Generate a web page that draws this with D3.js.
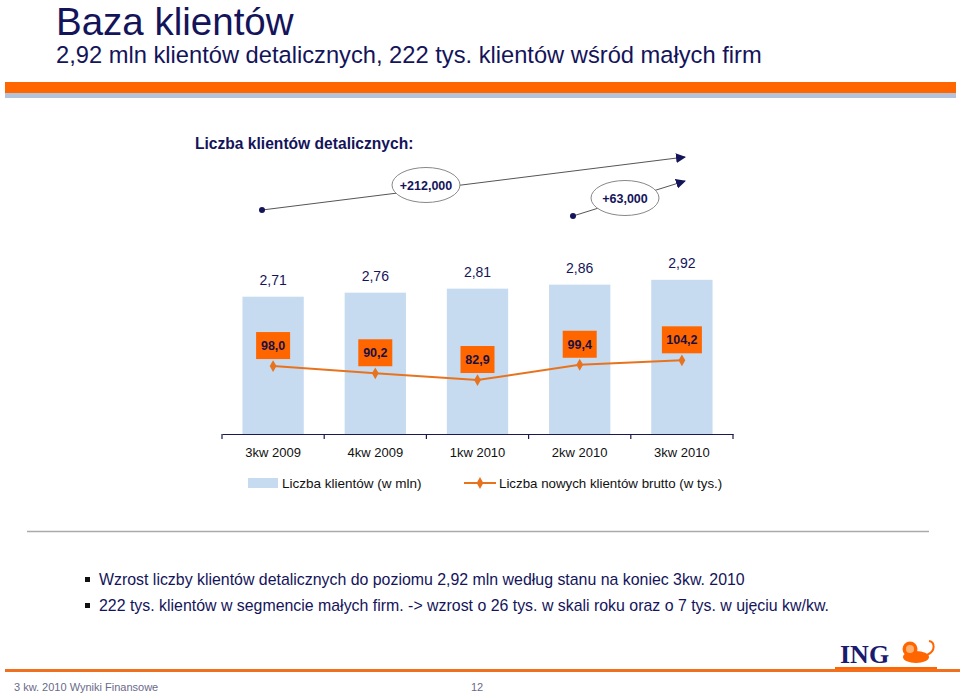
<!DOCTYPE html>
<html><head><meta charset="utf-8">
<script src="https://cdn.jsdelivr.net/npm/d3@7/dist/d3.min.js"></script>
<style>body{margin:0;background:#fff}svg{display:block}</style>
</head><body>
<script>
const categories = ["3kw 2009","4kw 2009","1kw 2010","2kw 2010","3kw 2010"];
const clients = [2.71, 2.76, 2.81, 2.86, 2.92];          // mln
const newClients = [98.0, 90.2, 82.9, 99.4, 104.2];      // tys.
const clientLabels = ["2,71","2,76","2,81","2,86","2,92"];
const newLabels = ["98,0","90,2","82,9","99,4","104,2"];
const growthLabels = ["+212,000","+63,000"];
const legendLabels = ["Liczba klientów (w mln)","Liczba nowych klientów brutto (w tys.)"];
const bullets = ["Wzrost liczby klientów detalicznych do poziomu 2,92 mln według stanu na koniec 3kw. 2010",
                 "222 tys. klientów w segmencie małych firm. -> wzrost o 26 tys. w skali roku oraz o 7 tys. w ujęciu kw/kw."];

const W = 960, H = 696;
const navy = "#14145a", orange = "#ff6600", barBlue = "#c6dbf0";
const svg = d3.select("body").append("svg").attr("width", W).attr("height", H)
  .style("font-family", "Liberation Sans, Arial, sans-serif");

// header
svg.append("text").attr("x", 56).attr("y", 35).attr("font-size", 38.5).attr("fill", navy).text("Baza klientów");
svg.append("text").attr("x", 56).attr("y", 63).attr("font-size", 23.7).attr("fill", navy)
  .text("2,92 mln klientów detalicznych, 222 tys. klientów wśród małych firm");
svg.append("rect").attr("x", 5).attr("y", 82).attr("width", 951).attr("height", 11).attr("fill", orange);
svg.append("rect").attr("x", 5).attr("y", 93).attr("width", 951).attr("height", 5).attr("fill", "#b4c3dc");

svg.append("text").attr("x", 195).attr("y", 149).attr("font-size", 15.6).attr("font-weight", "bold")
  .attr("fill", navy).text("Liczba klientów detalicznych:");

// scales
const x = d3.scaleBand().domain(categories).range([222, 733]).paddingInner(0.4).paddingOuter(0.2);
const axisY = 434;
const y = d3.scaleLinear().domain([1.0, 3.0]).range([axisY, axisY - 160.6]);
const y2 = d3.scaleLinear().domain([80, 110]).range([382.7, 354.95]);

// bars
svg.selectAll(".bar").data(clients).join("rect")
  .attr("x", (d,i) => x(categories[i])).attr("width", x.bandwidth())
  .attr("y", d => y(d)).attr("height", d => axisY - y(d)).attr("fill", barBlue);
svg.selectAll(".blab").data(clients).join("text")
  .attr("x", (d,i) => x(categories[i]) + x.bandwidth()/2).attr("y", d => y(d) - 12)
  .attr("text-anchor", "middle").attr("font-size", 14).attr("fill", navy)
  .text((d,i) => clientLabels[i]);

// axis
const ax = svg.append("g").attr("transform", `translate(0,${axisY})`)
  .call(d3.axisBottom(x).tickSize(0).tickPadding(14));
ax.select(".domain").attr("stroke", "#1a1a50").attr("stroke-width", 1.2);
ax.selectAll("text").attr("font-size", 13).attr("fill", "#111").attr("font-family", "Liberation Sans, Arial, sans-serif");
const step = x.step();
const bounds = d3.range(categories.length + 1).map(i => 222 + i * step);
svg.selectAll(".tk").data(bounds).join("line")
  .attr("x1", d => d).attr("x2", d => d).attr("y1", axisY).attr("y2", axisY + 5)
  .attr("stroke", "#1a1a50").attr("stroke-width", 1.2);

// line series
const cx = (i) => x(categories[i]) + x.bandwidth()/2;
const line = d3.line().x((d,i) => cx(i)).y(d => y2(d));
svg.append("path").datum(newClients).attr("d", line).attr("fill", "none")
  .attr("stroke", "#e8731e").attr("stroke-width", 2);
const sym = d3.symbol().type(d3.symbolDiamond).size(40);
svg.selectAll(".pt").data(newClients).join("path")
  .attr("d", sym).attr("transform", (d,i) => `translate(${cx(i)},${y2(d)})`).attr("fill", "#e8731e");
const boxes = svg.selectAll(".nb").data(newClients).join("g")
  .attr("transform", (d,i) => `translate(${cx(i)},${y2(d) - 20.5})`);
boxes.append("rect").attr("x", (d,i) => newLabels[i].length > 4 ? -20 : -17).attr("y", -13.5)
  .attr("width", (d,i) => newLabels[i].length > 4 ? 40 : 34).attr("height", 27).attr("fill", orange);
boxes.append("text").attr("text-anchor", "middle").attr("y", 4.5).attr("font-size", 12.5)
  .attr("font-weight", "bold").attr("fill", "#1a1040").text((d,i) => newLabels[i]);

// legend
svg.append("rect").attr("x", 248).attr("y", 478).attr("width", 30).attr("height", 10).attr("fill", barBlue);
svg.append("text").attr("x", 282).attr("y", 488).attr("font-size", 13.5).attr("fill", "#111").text(legendLabels[0]);
svg.append("line").attr("x1", 464).attr("x2", 496).attr("y1", 483).attr("y2", 483).attr("stroke", "#e8731e").attr("stroke-width", 2);
svg.append("path").attr("d", sym).attr("transform", "translate(480,483)").attr("fill", "#e8731e");
svg.append("text").attr("x", 499).attr("y", 488).attr("font-size", 13.3).attr("fill", "#111").text(legendLabels[1]);

// growth arrows
const defs = svg.append("defs");
defs.append("marker").attr("id", "arr").attr("viewBox", "0 0 10 10").attr("refX", 9).attr("refY", 5)
  .attr("markerWidth", 10).attr("markerHeight", 10).attr("markerUnits", "userSpaceOnUse").attr("orient", "auto")
  .append("path").attr("d", "M0,0 L10,5 L0,10 z").attr("fill", "#14145a");
function growth(x1, y1, x2, y2_, ex, ey, rx, ry, label) {
  svg.append("line").attr("x1", x1).attr("y1", y1).attr("x2", x2).attr("y2", y2_)
    .attr("stroke", "#555").attr("stroke-width", 1).attr("marker-end", "url(#arr)");
  svg.append("circle").attr("cx", x1).attr("cy", y1).attr("r", 3).attr("fill", "#14145a");
  svg.append("ellipse").attr("cx", ex).attr("cy", ey).attr("rx", rx).attr("ry", ry)
    .attr("fill", "#fff").attr("stroke", "#888").attr("stroke-width", 1);
  svg.append("text").attr("x", ex).attr("y", ey + 4.5).attr("text-anchor", "middle").attr("font-size", 12.5)
    .attr("font-weight", "bold").attr("fill", navy).text(label);
}
growth(262, 210, 685, 157, 426, 185, 34, 17.5, growthLabels[0]);
growth(573, 216, 685, 181, 625, 198, 34, 17.5, growthLabels[1]);

// divider
svg.append("line").attr("x1", 27).attr("x2", 929).attr("y1", 531.5).attr("y2", 531.5).attr("stroke", "#aaa").attr("stroke-width", 1.5);

// bullets
bullets.forEach((b, i) => {
  const by = 585 + i * 26;
  svg.append("rect").attr("x", 85).attr("y", by - 8).attr("width", 5).attr("height", 5).attr("fill", "#111");
  svg.append("text").attr("x", 99).attr("y", by).attr("font-size", 15.9).attr("fill", navy).text(b);
});

// ING logo
svg.append("text").attr("x", 840).attr("y", 663).attr("font-size", 26).attr("font-weight", "bold")
  .attr("font-family", "Liberation Serif, Times New Roman, serif").attr("fill", "#1a1a6e").text("ING");
const lion = svg.append("g").attr("transform", "translate(902,638)").attr("fill", "#ff6600");
lion.append("ellipse").attr("cx", 14).attr("cy", 19).attr("rx", 13).attr("ry", 6);
lion.append("circle").attr("cx", 8).attr("cy", 11).attr("r", 7.5);
lion.append("circle").attr("cx", 8).attr("cy", 11).attr("r", 4).attr("fill", "#ffb070");
lion.append("path").attr("d", "M25,17 C34,13 33,4 27,3").attr("fill", "none").attr("stroke", "#ff6600").attr("stroke-width", 2);
svg.append("rect").attr("x", 835).attr("y", 667).attr("width", 102).attr("height", 3).attr("fill", orange);

// footer
svg.append("rect").attr("x", 5).attr("y", 669).attr("width", 955).attr("height", 3).attr("fill", "#f07020");
svg.append("text").attr("x", 14).attr("y", 691).attr("font-size", 11).attr("fill", "#6a6a8a").text("3 kw. 2010 Wyniki Finansowe");
svg.append("text").attr("x", 477).attr("y", 691).attr("font-size", 11).attr("text-anchor", "middle").attr("fill", "#6a6a8a").text("12");
</script>
</body></html>
